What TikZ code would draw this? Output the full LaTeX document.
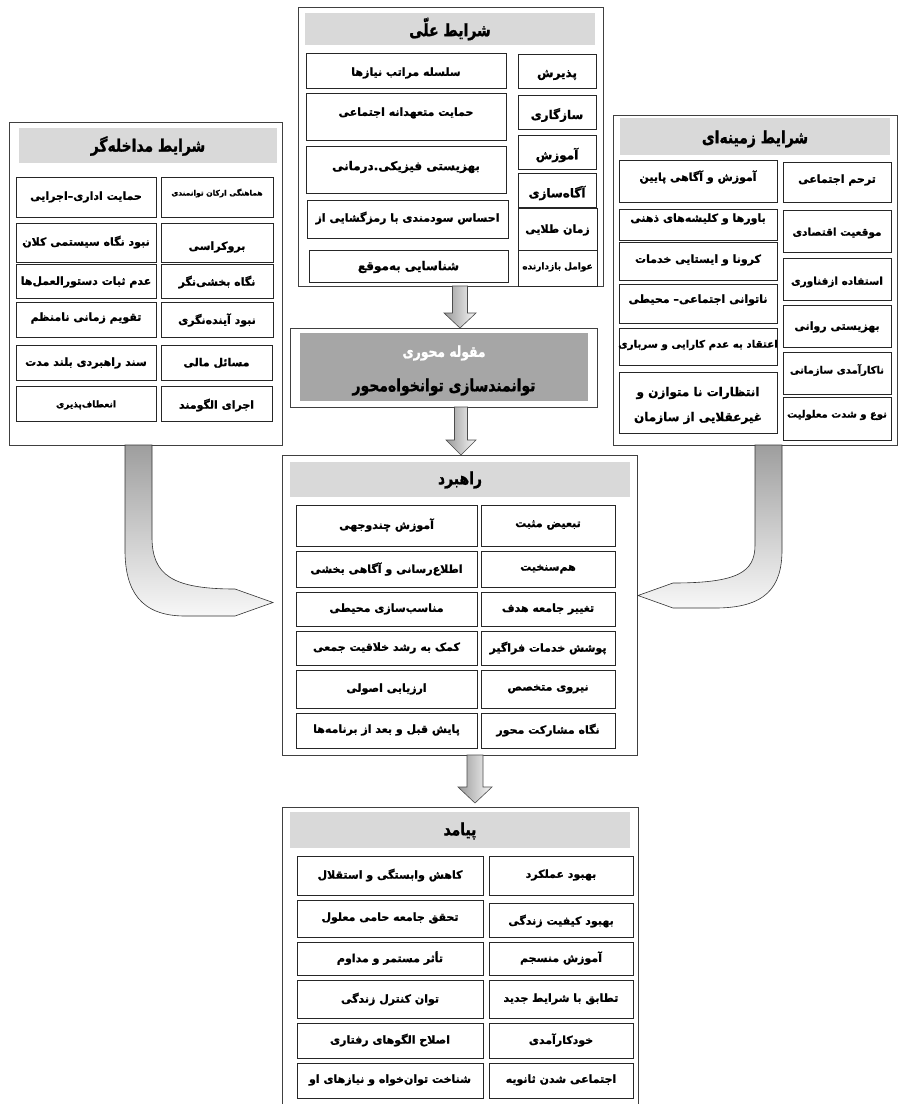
\documentclass[tikz,border=0pt]{standalone}
\usepackage{fontspec}
\newfontfamily\ar[Script=Arabic, BoldFeatures={FakeBold=1.2}]{DejaVu Sans}
\newfontfamily\art[Script=Arabic, FakeStretch=0.82, BoldFeatures={FakeBold=1.2}]{DejaVu Sans}
\TeXXeTstate=1
\usetikzlibrary{calc}
\tikzset{
  frm/.style={draw=black!75, line width=0.9pt, fill=white, inner sep=0pt, outer sep=0pt},
  band/.style={fill=black!15, draw=none, inner sep=0pt, outer sep=0pt},
  core/.style={fill=black!35, draw=none, inner sep=0pt, outer sep=0pt},
  cell/.style={draw=black!85, line width=0.9pt, inner sep=0pt, outer sep=0pt},
  txt/.style={font=\ar\bfseries\fontsize{11}{14}\selectfont, inner sep=0pt, align=center},
  mid/.style={font=\ar\bfseries\fontsize{10.5}{12}\selectfont},
  midsmall/.style={font=\ar\bfseries\fontsize{10}{12}\selectfont},
  small/.style={font=\ar\bfseries\fontsize{9}{11}\selectfont},
  tiny/.style={font=\ar\bfseries\fontsize{7.5}{9}\selectfont},
  big/.style={font=\ar\bfseries\fontsize{12}{14}\selectfont},
  ttl/.style={font=\art\bfseries\fontsize{17}{20}\selectfont, inner sep=0pt},
  barrow/.style={left color=black!40, right color=black!3, draw=black!70, line width=0.6pt},
  carrow/.style={top color=black!38, bottom color=black!3, draw=black!80, line width=0.6pt},
}
% box: [style] name x1 y1 x2 y2 texty text
\newcommand\cb[8][]{%
  \node[cell, minimum width={#5-#3}, minimum height={#6-#4}] (#2) at ({(#3+#5)/2},{(#4+#6)/2}) {};
  \node[txt,#1] (#2t) at ({(#3+#5)/2},#7) {#8};}
\newcommand\frameat[5]{\node[frm, minimum width={#4-#2}, minimum height={#5-#3}] (#1) at ({(#2+#4)/2},{(#3+#5)/2}) {};}
\newcommand\bandat[5]{\node[band, minimum width={#4-#2}, minimum height={#5-#3}] (#1) at ({(#2+#4)/2},{(#3+#5)/2}) {};}
% straight block arrow: x ytop yhead ytip shafthalf headhalf
\newcommand\blockdown[6]{%
  \shadedraw[barrow] (#1-#5,#2) -- (#1+#5,#2) -- (#1+#5,#3) -- (#1+#6,#3) -- (#1,#4) -- (#1-#6,#3) -- (#1-#5,#3) -- cycle;}
\begin{document}
\begin{tikzpicture}[x=1pt,y=-1pt]
\useasboundingbox (0,0) rectangle (900,1104);
\fill[white] (0,0) rectangle (900,1104);

% ---------- frames ----------
\frameat{causal}{298}{7}{603}{286}
\frameat{interv}{9}{122}{282}{445}
\frameat{context}{613}{115}{897}{445}
\frameat{axial}{290}{328}{597}{407}
\frameat{strat}{282}{455}{637}{755}
\frameat{outc}{282}{807}{638}{1110}

% ---------- causal conditions ----------
\bandat{causalb}{305}{13}{595}{45}
\node[ttl] (causalt) at (450,29) {\beginR شرایط علّی\endR};
\cb[big]{c1}{518}{54}{596}{88}{75}{\beginR پذیرش\endR}
\cb[big]{c2}{518}{95}{596}{129}{115}{\beginR سازگاری\endR}
\cb[big]{c3}{518}{135}{596}{169}{155}{\beginR آموزش\endR}
\cb[big]{c4}{518}{173}{596}{207}{193}{\beginR آگاه‌سازی\endR}
\cb{c5}{518}{208}{597}{250}{230}{\beginR زمان طلایی\endR}
\cb[small]{c6}{518}{250}{597}{286}{267}{\beginR عوامل بازدارنده\endR}
\cb{c7}{306}{53}{506}{88}{73}{\beginR سلسله مراتب نیازها\endR}
\cb{c8}{306}{93}{506}{140}{113}{\beginR حمایت متعهدانه اجتماعی\endR}
\cb[big]{c9}{306}{146}{506}{193}{167}{\beginR بهزیستی فیزیکی.درمانی\endR}
\cb{c10}{307}{200}{508}{238}{218}{\beginR احساس سودمندی با رمزگشایی از\endR}
\cb[big]{c11}{309}{250}{508}{282}{267}{\beginR شناسایی به‌موقع\endR}

% ---------- intervening conditions ----------
\bandat{intervb}{19}{128}{277}{163}
\node[ttl] (intervt) at (148,146) {\beginR شرایط مداخله‌گر\endR};
\cb[tiny]{l1}{161}{177}{273}{217}{193}{\beginR هماهنگی ارکان توانمندی\endR}
\cb{l2}{16}{177}{156}{217}{197}{\beginR حمایت اداری–اجرایی\endR}
\cb{l3}{161}{223}{273}{262}{247}{\beginR بروکراسی\endR}
\cb{l4}{16}{223}{156}{262}{242}{\beginR نبود نگاه سیستمی کلان\endR}
\cb{l5}{161}{264}{273}{298}{282}{\beginR نگاه بخشی‌نگر\endR}
\cb{l6}{16}{264}{156}{298}{282}{\beginR عدم ثبات دستورالعمل‌ها\endR}
\cb{l7}{161}{302}{273}{337}{320}{\beginR نبود آینده‌نگری\endR}
\cb{l8}{16}{302}{156}{337}{318}{\beginR تقویم زمانی نامنظم\endR}
\cb{l9}{161}{345}{272}{380}{363}{\beginR مسائل مالی\endR}
\cb{l10}{16}{345}{156}{380}{363}{\beginR سند راهبردی بلند مدت\endR}
\cb{l11}{161}{386}{272}{421}{405}{\beginR اجرای الگومند\endR}
\cb[small]{l12}{16}{386}{156}{421}{405}{\beginR انعطاف‌پذیری\endR}

% ---------- contextual conditions ----------
\bandat{contextb}{620}{118}{890}{155}
\node[ttl] (contextt) at (755,139) {\beginR شرایط زمینه‌ای\endR};
\cb{r1}{783}{162}{891}{202}{180}{\beginR ترحم اجتماعی\endR}
\cb[mid]{r2}{783}{210}{891}{252}{233}{\beginR موقعیت اقتصادی\endR}
\cb[mid]{r3}{783}{258}{891}{300}{282}{\beginR استفاده ازفناوری\endR}
\cb{r4}{783}{305}{891}{347}{327}{\beginR بهزیستی روانی\endR}
\cb[midsmall]{r5}{783}{352}{891}{394}{370}{\beginR ناکارآمدی سازمانی\endR}
\cb[midsmall]{r6}{783}{397}{891}{440}{415}{\beginR نوع و شدت معلولیت\endR}
\cb{r7}{619}{160}{777}{202}{177}{\beginR آموزش و آگاهی پایین\endR}
\cb{r8}{619}{209}{777}{240}{219}{\beginR باورها و کلیشه‌های ذهنی\endR}
\cb{r9}{619}{242}{777}{280}{260}{\beginR کرونا و ایستایی خدمات\endR}
\cb{r10}{619}{284}{777}{323}{300}{\beginR ناتوانی اجتماعی– محیطی\endR}
\cb[font=\ar\bfseries\fontsize{10.3}{12}\selectfont]{r11}{619}{328}{777}{365}{345}{\beginR اعتقاد به عدم کارایی و سرباری\endR}
\node[cell, minimum width=158, minimum height=61] (r12) at (698,402.5) {};
\node[txt, big] (r12a) at (698,393) {\beginR انتظارات نا متوازن و\endR};
\node[txt, big] (r12b) at (698,418) {\beginR غیرعقلایی از سازمان\endR};

% ---------- axial category ----------
\node[core, minimum width=288, minimum height=68] (axialc) at (444,367) {};
\node[font=\art\bfseries\fontsize{15}{17}\selectfont, text=white, inner sep=0pt] (axialt1) at (444,353) {\beginR مقوله محوری\endR};
\node[ttl] (axialt2) at (444,387) {\beginR توانمندسازی توانخواه‌محور\endR};

% ---------- strategies ----------
\bandat{stratb}{290}{462}{630}{497}
\node[ttl] (stratt) at (460,480) {\beginR راهبرد\endR};
\cb{s1}{296}{505}{477}{546}{525}{\beginR آموزش چندوجهی\endR}
\cb{s2}{296}{551}{477}{587}{569}{\beginR اطلاع‌رسانی و آگاهی بخشی\endR}
\cb{s3}{296}{592}{477}{626}{609}{\beginR مناسب‌سازی محیطی\endR}
\cb{s4}{296}{631}{477}{665}{648}{\beginR کمک به رشد خلاقیت جمعی\endR}
\cb{s5}{296}{670}{477}{708}{689}{\beginR ارزیابی اصولی\endR}
\cb{s6}{296}{713}{477}{748}{730}{\beginR پایش قبل و بعد از برنامه‌ها\endR}
\cb{s7}{481}{505}{615}{546}{525}{\beginR تبعیض مثبت\endR}
\cb{s8}{481}{551}{615}{587}{569}{\beginR هم‌سنخیت\endR}
\cb{s9}{481}{592}{615}{626}{609}{\beginR تغییر جامعه هدف\endR}
\cb{s10}{481}{631}{615}{665}{648}{\beginR پوشش خدمات فراگیر\endR}
\cb{s11}{481}{670}{615}{708}{689}{\beginR نیروی متخصص\endR}
\cb{s12}{481}{713}{615}{748}{730}{\beginR نگاه مشارکت محور\endR}

% ---------- outcomes ----------
\bandat{outcb}{290}{812}{630}{848}
\node[ttl] (outct) at (460,831) {\beginR پیامد\endR};
\cb{o1}{297}{856}{483}{895}{875}{\beginR کاهش وابستگی و استقلال\endR}
\cb{o2}{297}{900}{483}{937}{918}{\beginR تحقق جامعه حامی معلول\endR}
\cb{o3}{297}{942}{483}{975}{958}{\beginR تأثر مستمر و مداوم\endR}
\cb{o4}{297}{980}{483}{1018}{999}{\beginR توان کنترل زندگی\endR}
\cb{o5}{297}{1023}{483}{1058}{1040}{\beginR اصلاح الگوهای رفتاری\endR}
\cb{o6}{297}{1063}{483}{1098}{1080}{\beginR شناخت توان‌خواه و نیازهای او\endR}
\cb{o7}{489}{856}{633}{895}{875}{\beginR بهبود عملکرد\endR}
\cb{o8}{489}{903}{633}{937}{921}{\beginR بهبود کیفیت زندگی\endR}
\cb{o9}{489}{942}{633}{975}{958}{\beginR آموزش منسجم\endR}
\cb{o10}{489}{980}{633}{1018}{999}{\beginR تطابق با شرایط جدید\endR}
\cb{o11}{489}{1023}{633}{1058}{1040}{\beginR خودکارآمدی\endR}
\cb{o12}{489}{1063}{633}{1098}{1080}{\beginR اجتماعی شدن ثانویه\endR}

% ---------- straight block arrows ----------
\coordinate (a1s) at (460,286); \coordinate (a1e) at (460,328);
\coordinate (a2s) at (461,407); \coordinate (a2e) at (461,455);
\coordinate (a3s) at (475,755); \coordinate (a3e) at (475,803);
\blockdown{460}{286}{313}{328}{7.5}{16}
\blockdown{461}{407}{440}{455}{6.5}{15}
\blockdown{475}{755}{787}{803}{8}{17}

% ---------- curved block arrows ----------
\coordinate (la) at (138.5,445); \coordinate (lb) at (273,603);
\shadedraw[carrow] (125,445) -- (152,445) -- (152,537)
  .. controls (152,575) and (172,589) .. (235,589) -- (273,602.5) -- (235,616) -- (185,616)
  .. controls (140,616) and (125,590) .. (125,550) -- cycle;
\coordinate (ra) at (768.5,445); \coordinate (rb) at (638,595.5);
\shadedraw[carrow] (782,445) -- (755,445) -- (755,545)
  .. controls (755,572) and (738,583) .. (673,583) -- (638,595.5) -- (673,608) -- (715,608)
  .. controls (765,608) and (782,588) .. (782,550) -- cycle;
\end{tikzpicture}
\end{document}
